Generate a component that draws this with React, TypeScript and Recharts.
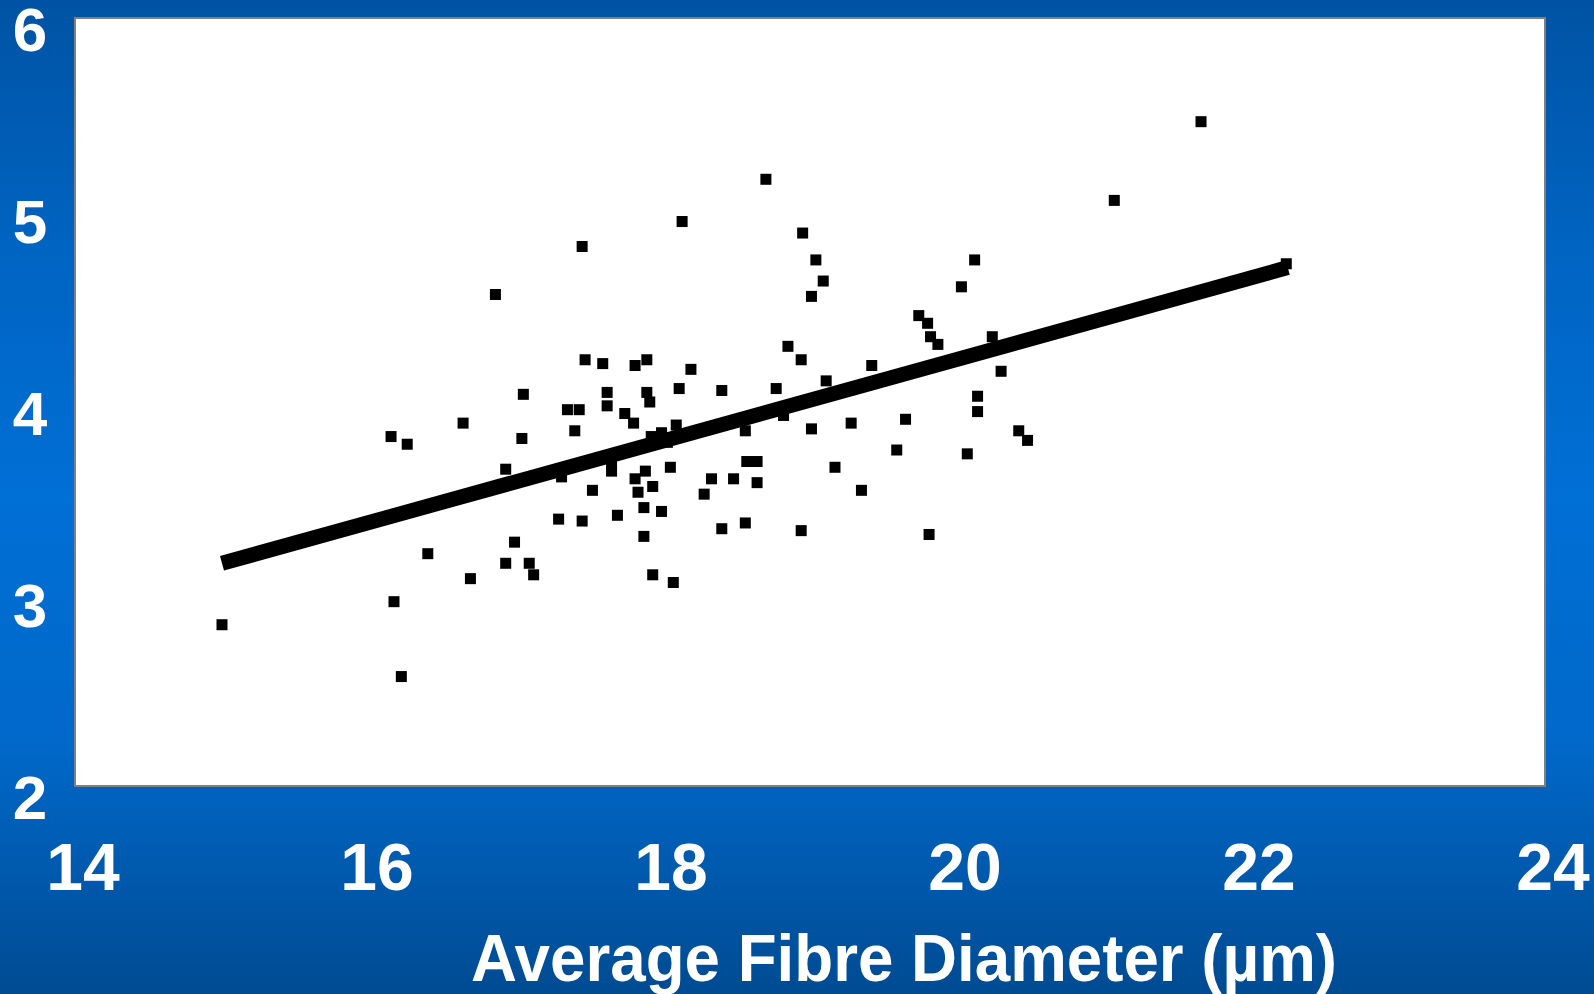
import { ScatterChart, Scatter, XAxis, YAxis, ReferenceArea } from "recharts";

// average fibre diameter (µm) for each sample
const diameters = [
  15.0, 16.15, 16.26, 16.17, 16.22, 16.4, 16.64, 16.69, 16.86, 16.93,
  16.93, 16.99, 17.05, 17.04, 17.09, 17.12, 17.29, 17.31, 17.35, 17.43,
  17.4, 17.45, 17.47, 17.45, 17.52, 17.59, 17.62, 17.62, 17.65, 17.65,
  17.69, 17.74, 17.8, 17.81, 17.81, 17.83, 17.87, 17.88, 17.87, 17.89,
  17.89, 17.91, 17.93, 17.93, 17.92, 17.99, 17.99, 18.03, 18.05, 18.07,
  18.09, 18.11, 18.13, 18.19, 18.28, 18.33, 18.4, 18.4, 18.48, 18.56,
  18.56, 18.57, 18.64, 18.64, 18.7, 18.77, 18.82, 18.85, 18.94, 18.94,
  18.95, 19.01, 19.01, 19.04, 19.09, 19.11, 19.17, 19.28, 19.35, 19.42,
  19.59, 19.65, 19.74, 19.8, 19.82, 19.87, 19.81, 20.03, 20.07, 20.12,
  20.14, 20.14, 20.24, 20.3, 20.42, 20.48, 21.07, 21.66, 22.24,
];

const measured = [
  2.84, 3.82, 3.78, 2.96, 2.57, 3.21, 3.89, 3.08, 4.56, 3.65,
  3.16, 3.27, 4.04, 3.81, 3.16, 3.1, 3.39, 3.61, 3.96, 3.96,
  3.85, 4.81, 4.22, 3.38, 3.54, 4.2, 4.05, 3.98, 3.64, 3.68,
  3.41, 3.94, 3.89, 4.19, 3.6, 3.53, 3.45, 3.64, 3.3, 4.22,
  4.05, 4.0, 3.56, 3.1, 3.82, 3.43, 3.84, 3.79, 3.66, 3.06,
  3.88, 4.07, 4.94, 4.17, 3.52, 3.6, 4.06, 3.34, 3.6, 3.85,
  3.37, 3.69, 3.69, 3.58, 5.16, 4.07, 3.93, 4.29, 4.22, 3.33,
  4.88, 4.55, 3.86, 4.74, 4.63, 4.11, 3.66, 3.89, 3.54, 4.19,
  3.75, 3.91, 4.45, 4.41, 4.34, 4.3, 3.31, 4.6, 3.73, 4.74,
  4.03, 3.95, 4.34, 4.16, 3.85, 3.8, 5.05, 5.46, 4.72,
];

// fitted regression line end points
const trendX = [15.0, 22.25];
const trendY = [3.16, 4.7];

const xTicks = [14, 16, 18, 20, 22, 24];
const yTicks = [2, 3, 4, 5, 6];

const points = diameters.map((d, i) => ({ x: d, y: measured[i] }));
const trend = trendX.map((d, i) => ({ x: d, y: trendY[i] }));

const FONT = '"Liberation Sans", Arial, sans-serif';

const Square = (props: any) => {
  const { cx, cy } = props;
  if (cx == null || cy == null) return <g />;
  return <rect x={cx - 5.5} y={cy - 5.5} width={11} height={11} fill="#000" />;
};

const XTick = ({ x, y, payload }: any) => (
  <text x={x + 8} y={y + 104} textAnchor="middle" fill="#fff" fontSize={66} fontWeight="bold" fontFamily={FONT}>
    {payload.value}
  </text>
);

const YTick = ({ x, y, payload }: any) => (
  <text x={x - 45} y={y + 33} textAnchor="middle" fill="#fff" fontSize={62} fontWeight="bold" fontFamily={FONT}>
    {payload.value}
  </text>
);

const AxisTitle = ({ viewBox }: any) => (
  <text
    x={viewBox.x + viewBox.width / 2 + 94}
    y={viewBox.y + 195}
    textAnchor="middle"
    fill="#fff"
    fontSize={66}
    fontWeight="bold"
    fontFamily={FONT}
    textLength={866}
    lengthAdjust="spacingAndGlyphs"
  >
    Average Fibre Diameter (µm)
  </text>
);

export default function App() {
  return (
    <div
      style={{
        position: "absolute",
        left: 0,
        top: 0,
        width: 1594,
        height: 994,
        background:
          "linear-gradient(to bottom, #0053a4 0%, #0064c2 25%, #006fd6 50%, #0068c9 75%, #004b92 100%)",
      }}
    >
      <ScatterChart width={1594} height={994} margin={{ top: 18, right: 49, bottom: 0, left: 0 }}>
        <XAxis
          type="number"
          dataKey="x"
          domain={[14, 24]}
          ticks={xTicks}
          height={208}
          tickSize={0}
          tickMargin={0}
          axisLine={false}
          tickLine={false}
          tick={<XTick />}
          label={<AxisTitle />}
        />
        <YAxis
          type="number"
          dataKey="y"
          domain={[2, 6]}
          ticks={yTicks}
          width={75}
          tickSize={0}
          tickMargin={0}
          axisLine={false}
          tickLine={false}
          tick={<YTick />}
        />
        <ReferenceArea x1={14} x2={24} y1={2} y2={6} fill="#ffffff" fillOpacity={1} stroke="#808080" strokeWidth={2} />
        <Scatter data={points} shape={<Square />} isAnimationActive={false} />
        <Scatter
          data={trend}
          line={{ stroke: "#000", strokeWidth: 15 }}
          lineType="joint"
          shape={() => <g />}
          isAnimationActive={false}
        />
      </ScatterChart>
    </div>
  );
}
